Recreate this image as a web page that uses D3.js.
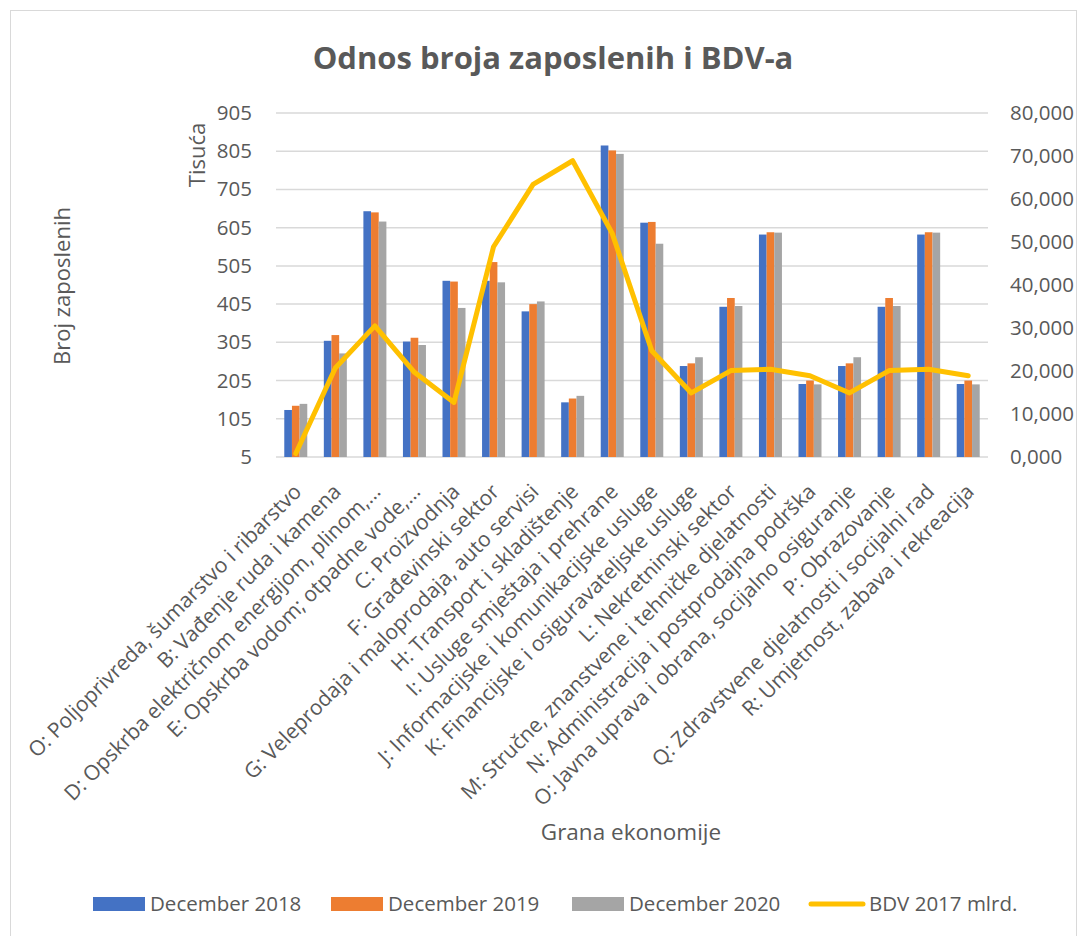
<!DOCTYPE html>
<html>
<head>
<meta charset="utf-8">
<script src="https://cdn.jsdelivr.net/npm/d3@7"></script>
<style>
body{margin:0;background:#fff;font-family:"Open Sans",sans-serif}
</style>
</head>
<body>
<div id="chart"></div>
<script>
var categories = ["O: Poljoprivreda, šumarstvo i ribarstvo","B: Vađenje ruda i kamena","D: Opskrba električnom energijom, plinom,…","E: Opskrba vodom; otpadne vode,…","C: Proizvodnja","F: Građevinski sektor","G: Veleprodaja i maloprodaja, auto servisi","H: Transport i skladištenje","I: Usluge smještaja i prehrane","J: Informacijske i komunikacijske usluge","K: Financijske i osiguravateljske usluge","L: Nekretninski sektor","M: Stručne, znanstvene i tehničke djelatnosti","N: Administracija i postprodajna podrška","O: Javna uprava i obrana, socijalno osiguranje","P: Obrazovanje","Q: Zdravstvene djelatnosti i socijalni rad","R: Umjetnost, zabava i rekreacija"]
var dec2018 = [128,309,648,307,466,466,386,148,820,618,243,398,587,196,243,398,587,196]
var dec2019 = [139,324,645,317,464,515,405,158,807,620,250,421,593,205,250,421,593,205]
var dec2020 = [144,276,621,298,395,462,412,165,798,563,266,400,592,195,266,400,592,195]
var bdv2017 = [800,20700,30500,19700,12700,48900,63400,68900,52000,24700,14900,20100,20400,18900,14900,20100,20400,18900]
var leftTicks = [5,105,205,305,405,505,605,705,805,905]
var rightTicks = [0,10000,20000,30000,40000,50000,60000,70000,80000]
var seriesNames = ["December 2018","December 2019","December 2020","BDV 2017 mlrd."]
var colors = ["#4472C4","#ED7D31","#A5A5A5","#FFC000"]

var W = 1080, H = 936
var svg = d3.select("#chart").append("svg").attr("width",W).attr("height",H)

svg.append("rect").attr("x",10.5).attr("y",10.5).attr("width",1066).attr("height",940)
  .attr("fill","none").attr("stroke","#D9D9D9")

var plotL = 276, plotR = 988, plotT = 113, plotB = 457

var x = d3.scaleBand().domain(categories).range([plotL,plotR])
var xs = d3.scaleBand().domain([0,1,2]).range([0,23])
var yL = d3.scaleLinear().domain([5,905]).range([plotB,plotT])
var yR = d3.scaleLinear().domain([0,80000]).range([plotB,plotT])

// gridlines
svg.append("g").selectAll("line").data(leftTicks).enter().append("line")
  .attr("x1",plotL).attr("x2",plotR)
  .attr("y1",function(d){return yL(d)}).attr("y2",function(d){return yL(d)})
  .attr("stroke","#D9D9D9").attr("stroke-width",1.5)

// left ticks
svg.append("g").selectAll("text").data(leftTicks).enter().append("text")
  .text(function(d){return d})
  .attr("x",252).attr("y",function(d){return yL(d)+7})
  .attr("text-anchor","end").attr("font-size","20.5px").attr("fill","#595959")

// right ticks
svg.append("g").selectAll("text").data(rightTicks).enter().append("text")
  .text(function(d){ return (d/1000) + ",000" })
  .attr("x",1010).attr("y",function(d){return yR(d)+7})
  .attr("text-anchor","start").attr("font-size","20.5px").attr("fill","#595959")

// bars
var bars = [dec2018,dec2019,dec2020]
bars.forEach(function(vals,s){
  svg.append("g").selectAll("rect").data(vals).enter().append("rect")
    .attr("x",function(d,i){return x(categories[i]) + x.bandwidth()/2 - 11.5 + xs(s)})
    .attr("width",xs.bandwidth())
    .attr("y",function(d){return yL(d)})
    .attr("height",function(d){return plotB - yL(d)})
    .attr("fill",colors[s])
})

// line
var line = d3.line()
  .x(function(d,i){return x(categories[i]) + x.bandwidth()/2})
  .y(function(d){return yR(d)})
svg.append("path").datum(bdv2017).attr("d",line)
  .attr("fill","none").attr("stroke",colors[3]).attr("stroke-width",5)
  .attr("stroke-linejoin","round").attr("stroke-linecap","round")

// x labels
svg.append("g").selectAll("text").data(categories).enter().append("text")
  .text(function(d){return d})
  .attr("transform",function(d){return "translate(" + (x(d)+x.bandwidth()/2+7) + "," + 493 + ") rotate(-45)"})
  .attr("text-anchor","end").attr("font-size","21px").attr("fill","#595959")

// titles
svg.append("text").text("Odnos broja zaposlenih i BDV-a")
  .attr("x",553).attr("y",69).attr("text-anchor","middle")
  .attr("font-size","31px").attr("font-weight","bold").attr("fill","#595959")

svg.append("text").text("Broj zaposlenih")
  .attr("transform","translate(70,286) rotate(-90)").attr("text-anchor","middle")
  .attr("font-size","22px").attr("fill","#595959")

svg.append("text").text("Tisuća")
  .attr("transform","translate(205,155) rotate(-90)").attr("text-anchor","middle")
  .attr("font-size","22px").attr("fill","#595959")

svg.append("text").text("Grana ekonomije")
  .attr("x",631).attr("y",840).attr("text-anchor","middle")
  .attr("font-size","22.5px").attr("fill","#595959")

// legend
var legX = [93,331,572,809]
var leg = svg.append("g").selectAll("g").data(seriesNames).enter().append("g")
  .attr("transform",function(d,i){return "translate(" + legX[i] + ",0)"})
leg.filter(function(d,i){return i<3}).append("rect")
  .attr("x",0).attr("y",897).attr("width",52).attr("height",14)
  .attr("fill",function(d,i){return colors[i]})
leg.filter(function(d,i){return i==3}).append("line")
  .attr("x1",2).attr("x2",54).attr("y1",904).attr("y2",904)
  .attr("stroke",colors[3]).attr("stroke-width",5).attr("stroke-linecap","round")
leg.append("text").text(function(d){return d})
  .attr("x",function(d,i){return i<3 ? 57 : 60}).attr("y",911)
  .attr("font-size","20.5px").attr("fill","#595959")
</script>
</body>
</html>
